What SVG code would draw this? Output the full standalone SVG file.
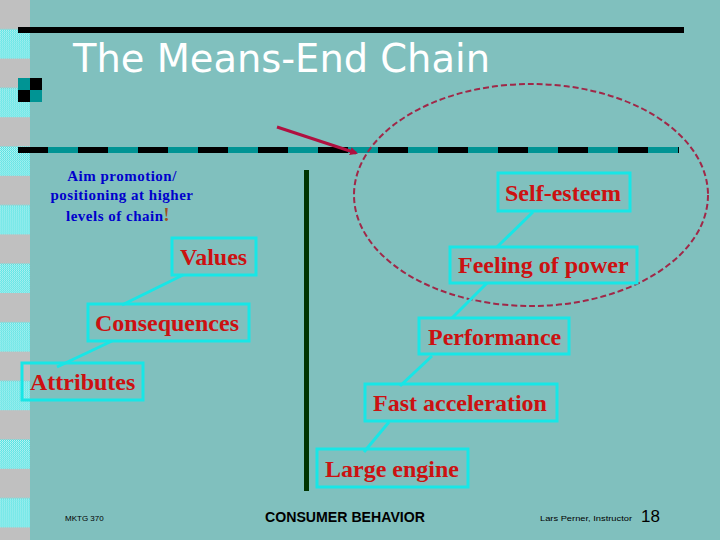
<svg xmlns="http://www.w3.org/2000/svg" width="720" height="540" viewBox="0 0 720 540">
<defs>
<pattern id="dots" width="2" height="2" patternUnits="userSpaceOnUse">
<rect width="2" height="2" fill="#40e0e0"/>
<rect width="1" height="1" fill="#c8f4f4"/>
<rect x="1" y="1" width="1" height="1" fill="#c8f4f4"/>
</pattern>
<pattern id="strip" width="30" height="58.6" patternUnits="userSpaceOnUse" y="0">
<rect width="30" height="29.3" fill="#c0c0c0"/>
<rect y="29.3" width="30" height="29.3" fill="url(#dots)"/>
</pattern>
<marker id="ah" markerWidth="8" markerHeight="8" refX="6" refY="4" orient="auto" markerUnits="userSpaceOnUse">
<path d="M0,0 L8,4 L0,8 Z" fill="#b01040"/>
</marker>
<style>
.box{fill:none;stroke:#18e6e6;stroke-width:3}
.lbl{font-family:"Liberation Serif","Times New Roman",serif;font-weight:bold;font-size:24px;fill:#cc1111}
.con{stroke:#18e6e6;stroke-width:3;fill:none}
.aim{font-family:"Liberation Serif","Times New Roman",serif;font-weight:bold;font-size:15px;fill:#0000cc;letter-spacing:0.5px;text-anchor:middle}
</style>
</defs>
<rect width="720" height="540" fill="#80c0be"/>
<rect x="0" y="0" width="30" height="540" fill="url(#strip)"/>
<!-- header decorations -->
<rect x="18" y="27" width="666" height="6" fill="#000"/>
<rect x="18" y="78" width="12" height="12" fill="#009494"/>
<rect x="30" y="78" width="12" height="12" fill="#000"/>
<rect x="18" y="90" width="12" height="12" fill="#000"/>
<rect x="30" y="90" width="12" height="12" fill="#009494"/>
<line x1="18" y1="150" x2="679" y2="150" stroke="#009494" stroke-width="6"/>
<line x1="18" y1="150" x2="679" y2="150" stroke="#000" stroke-width="6" stroke-dasharray="30 30"/>
<text x="73" y="72" font-family="'DejaVu Sans',sans-serif" font-size="39" fill="#ffffff" textLength="417" lengthAdjust="spacingAndGlyphs">The Means-End Chain</text>
<!-- divider -->
<line x1="306.5" y1="170" x2="306.5" y2="491" stroke="#003300" stroke-width="5"/>
<!-- aim text -->
<g id="aim-note">
<text class="aim" x="122" y="181">Aim  promotion/</text>
<text class="aim" x="122" y="200">positioning at higher</text>
<text class="aim" x="118" y="221">levels of chain<tspan fill="#a05020" font-size="18">!</tspan></text>
</g>
<!-- ellipse and arrow -->
<g id="highlight">
<ellipse cx="531" cy="195" rx="177" ry="111" fill="none" stroke="#a02848" stroke-width="2" stroke-dasharray="6 3"/>
<line x1="277" y1="127" x2="356" y2="153" stroke="#b01040" stroke-width="3" marker-end="url(#ah)"/>
</g>
<!-- connectors -->
<g id="connectors">
<line class="con" x1="57" y1="367" x2="112" y2="341"/>
<line class="con" x1="122" y1="305" x2="183" y2="275"/>
<line class="con" x1="364" y1="452" x2="389" y2="422"/>
<line class="con" x1="400" y1="386" x2="432" y2="356"/>
<line class="con" x1="452" y1="318" x2="487" y2="283"/>
<line class="con" x1="497" y1="247" x2="533" y2="212"/>
</g>
<!-- nodes -->
<g id="values"><rect class="box" x="172" y="238" width="84" height="37"/><text class="lbl" x="180" y="265">Values</text></g>
<g id="consequences"><rect class="box" x="88" y="304" width="161" height="37"/><text class="lbl" x="95" y="331">Consequences</text></g>
<g id="attributes"><rect class="box" x="22" y="363" width="121" height="37"/><text class="lbl" x="30" y="390">Attributes</text></g>
<g id="self-esteem"><rect class="box" x="498" y="173" width="132" height="38"/><text class="lbl" x="505" y="201">Self-esteem</text></g>
<g id="feeling-of-power"><rect class="box" x="450" y="247" width="187" height="36"/><text class="lbl" x="458" y="273">Feeling of power</text></g>
<g id="performance"><rect class="box" x="419" y="318" width="150" height="36"/><text class="lbl" x="428" y="345">Performance</text></g>
<g id="fast-acceleration"><rect class="box" x="365" y="384" width="192" height="37"/><text class="lbl" x="373" y="411">Fast acceleration</text></g>
<g id="large-engine"><rect class="box" x="317" y="449" width="151" height="38"/><text class="lbl" x="325" y="477">Large engine</text></g>
<!-- footer -->
<text x="65" y="521" font-family="'Liberation Sans',Arial,sans-serif" font-size="8" fill="#000">MKTG 370</text>
<text x="265" y="522" font-family="'Liberation Sans',Arial,sans-serif" font-size="14" font-weight="bold" fill="#000" textLength="160" lengthAdjust="spacingAndGlyphs">CONSUMER BEHAVIOR</text>
<text x="540" y="521" font-family="'Liberation Sans',Arial,sans-serif" font-size="8" fill="#000" textLength="92" lengthAdjust="spacingAndGlyphs">Lars Perner, Instructor</text>
<text x="641" y="522" font-family="'Liberation Sans',Arial,sans-serif" font-size="17" fill="#000">18</text>
</svg>
